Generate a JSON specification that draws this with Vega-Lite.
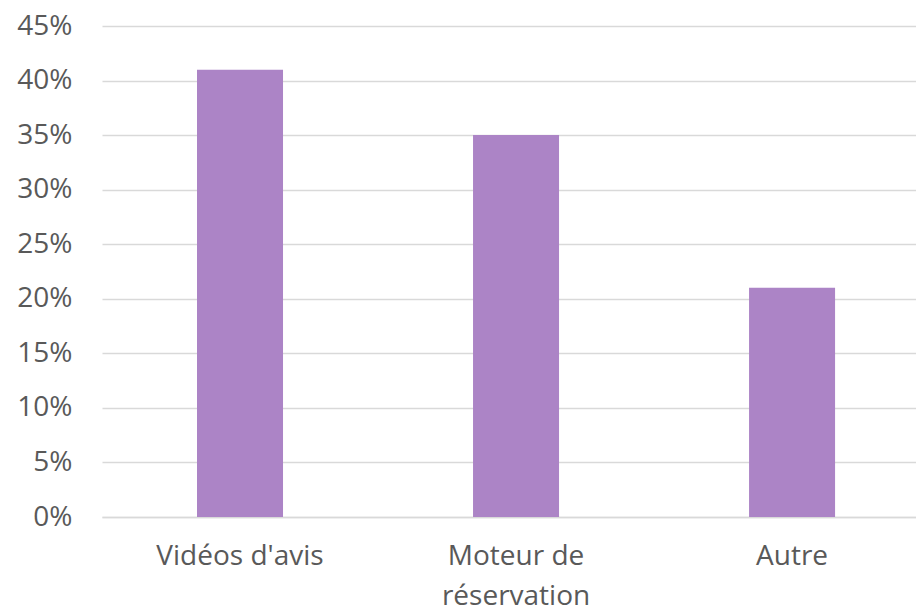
{
  "$schema": "https://vega.github.io/schema/vega-lite/v6.json",
  "width": 814,
  "height": 491,
  "autosize": {"type": "none"},
  "padding": {"left": 102, "top": 26, "right": 0, "bottom": 91},
  "background": "white",
  "data": {
    "values": [
      {"categorie": "Vidéos d'avis", "valeur": 0.41},
      {"categorie": "Moteur de réservation", "valeur": 0.35},
      {"categorie": "Autre", "valeur": 0.21}
    ]
  },
  "mark": {"type": "bar", "color": "#AC84C6"},
  "encoding": {
    "x": {
      "field": "categorie",
      "type": "nominal",
      "sort": null,
      "scale": {"paddingInner": 0.6884, "paddingOuter": 0.3187, "align": 0.54},
      "axis": {
        "title": null,
        "labelAngle": 0,
        "labelFont": "Open Sans",
        "labelFontSize": 28,
        "labelColor": "#595959",
        "labelPadding": 25,
        "labelLineHeight": 40,
        "labelLimit": 0,
        "labelExpr": "datum.label == 'Moteur de réservation' ? ['Moteur de', 'réservation'] : datum.label",
        "ticks": false,
        "domainColor": "#D9D9D9",
        "domainWidth": 1.5,
        "grid": false
      }
    },
    "y": {
      "field": "valeur",
      "type": "quantitative",
      "scale": {"domain": [0, 0.45]},
      "axis": {
        "title": null,
        "format": ".0%",
        "values": [0, 0.05, 0.1, 0.15, 0.2, 0.25, 0.3, 0.35, 0.4, 0.45],
        "labelFont": "Open Sans",
        "labelFontSize": 28,
        "labelColor": "#595959",
        "labelPadding": 30,
        "ticks": false,
        "domain": false,
        "gridColor": "#D9D9D9",
        "gridWidth": 1.5
      }
    }
  },
  "config": {"view": {"stroke": null}}
}
